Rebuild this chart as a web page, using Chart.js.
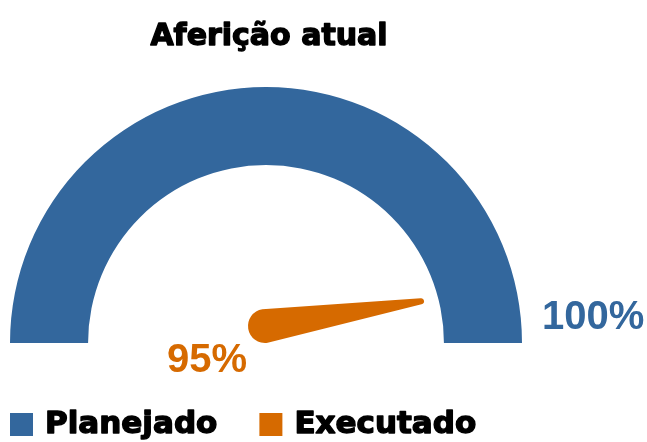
<!DOCTYPE html>
<html>
<head>
<meta charset="utf-8">
<script src="https://cdn.jsdelivr.net/npm/chart.js@4/dist/chart.umd.min.js"></script>
<style>
  html, body { margin: 0; padding: 0; background: #ffffff; }
</style>
</head>
<body>
<canvas id="gauge" width="647" height="442"></canvas>
<script>
const titleText = 'Aferição atual';
const seriesNames = ['Planejado', 'Executado'];
const seriesColors = ['#33679d', '#d66a00'];
const planned = [100];
const executed = [95];
const gaugeMax = 100;

const BOLD = '"Liberation Sans", Arial, sans-serif';
const HEAD = '"DejaVu Sans", Verdana, sans-serif';

// heavier text: fill plus a thin stroke of the same colour
function heavyText(ctx, text, x, y, color, w) {
    ctx.fillStyle = color;
    ctx.strokeStyle = color;
    ctx.lineWidth = w;
    ctx.lineJoin = 'round';
    ctx.strokeText(text, x, y);
    ctx.fillText(text, x, y);
}

// title, needle, value labels and legend drawn round the half doughnut
const gaugeExtras = {
    id: 'gaugeExtras',
    afterDraw(chart) {
        const arc = chart.getDatasetMeta(0).data[0];
        const { x, y, outerRadius } = arc.getProps(['x', 'y', 'outerRadius'], true);
        const ctx = chart.ctx;

        const angle = Math.PI * (1 - executed[0] / gaugeMax);
        const px = x - 1, py = y - 17;
        const len = 158, r0 = 17, r1 = 3;
        const tx = px + Math.cos(angle) * len;
        const ty = py - Math.sin(angle) * len;
        const nx = Math.sin(angle), ny = Math.cos(angle);

        ctx.save();
        ctx.fillStyle = seriesColors[1];
        ctx.beginPath();
        ctx.moveTo(px + nx * r0, py + ny * r0);
        ctx.lineTo(tx + nx * r1, ty + ny * r1);
        ctx.arc(tx, ty, r1, Math.PI / 2 - angle, -Math.PI / 2 - angle, true);
        ctx.lineTo(px - nx * r0, py - ny * r0);
        ctx.arc(px, py, r0, -Math.PI / 2 - angle, Math.PI / 2 - angle, true);
        ctx.closePath();
        ctx.fill();

        ctx.font = 'bold 40px ' + BOLD;
        ctx.textBaseline = 'middle';
        ctx.textAlign = 'left';
        ctx.fillStyle = seriesColors[0];
        ctx.fillText(planned[0] + '%', x + outerRadius + 20, y - 25);
        ctx.fillStyle = seriesColors[1];
        ctx.textAlign = 'center';
        ctx.fillText(executed[0] + '%', x - 59, y + 18);

        // title
        ctx.font = 'bold 30px ' + HEAD;
        ctx.textAlign = 'center';
        ctx.textBaseline = 'alphabetic';
        heavyText(ctx, titleText, x + 3, 45, '#000000', 1.4);

        // legend
        ctx.font = 'bold 31px ' + HEAD;
        ctx.textAlign = 'left';
        ctx.textBaseline = 'middle';
        let lx = 10;
        const ly = 425;
        seriesNames.forEach((name, i) => {
            ctx.fillStyle = seriesColors[i];
            ctx.fillRect(lx, ly - 12, 23, 23);
            heavyText(ctx, name, lx + 35, ly, '#000000', 1.4);
            lx += 35 + ctx.measureText(name).width + 42;
        });
        ctx.restore();
    }
};

new Chart(document.getElementById('gauge'), {
    type: 'doughnut',
    data: {
        labels: [seriesNames[0]],
        datasets: [{
            data: planned,
            backgroundColor: [seriesColors[0]],
            borderWidth: 0
        }]
    },
    options: {
        responsive: false,
        animation: false,
        rotation: -90,
        circumference: 180,
        cutout: '69.5%',
        layout: { padding: { left: 10, right: 125, top: 53, bottom: 65 } },
        plugins: {
            tooltip: { enabled: false },
            legend: { display: false },
            title: { display: false }
        }
    },
    plugins: [gaugeExtras]
});
</script>
</body>
</html>
